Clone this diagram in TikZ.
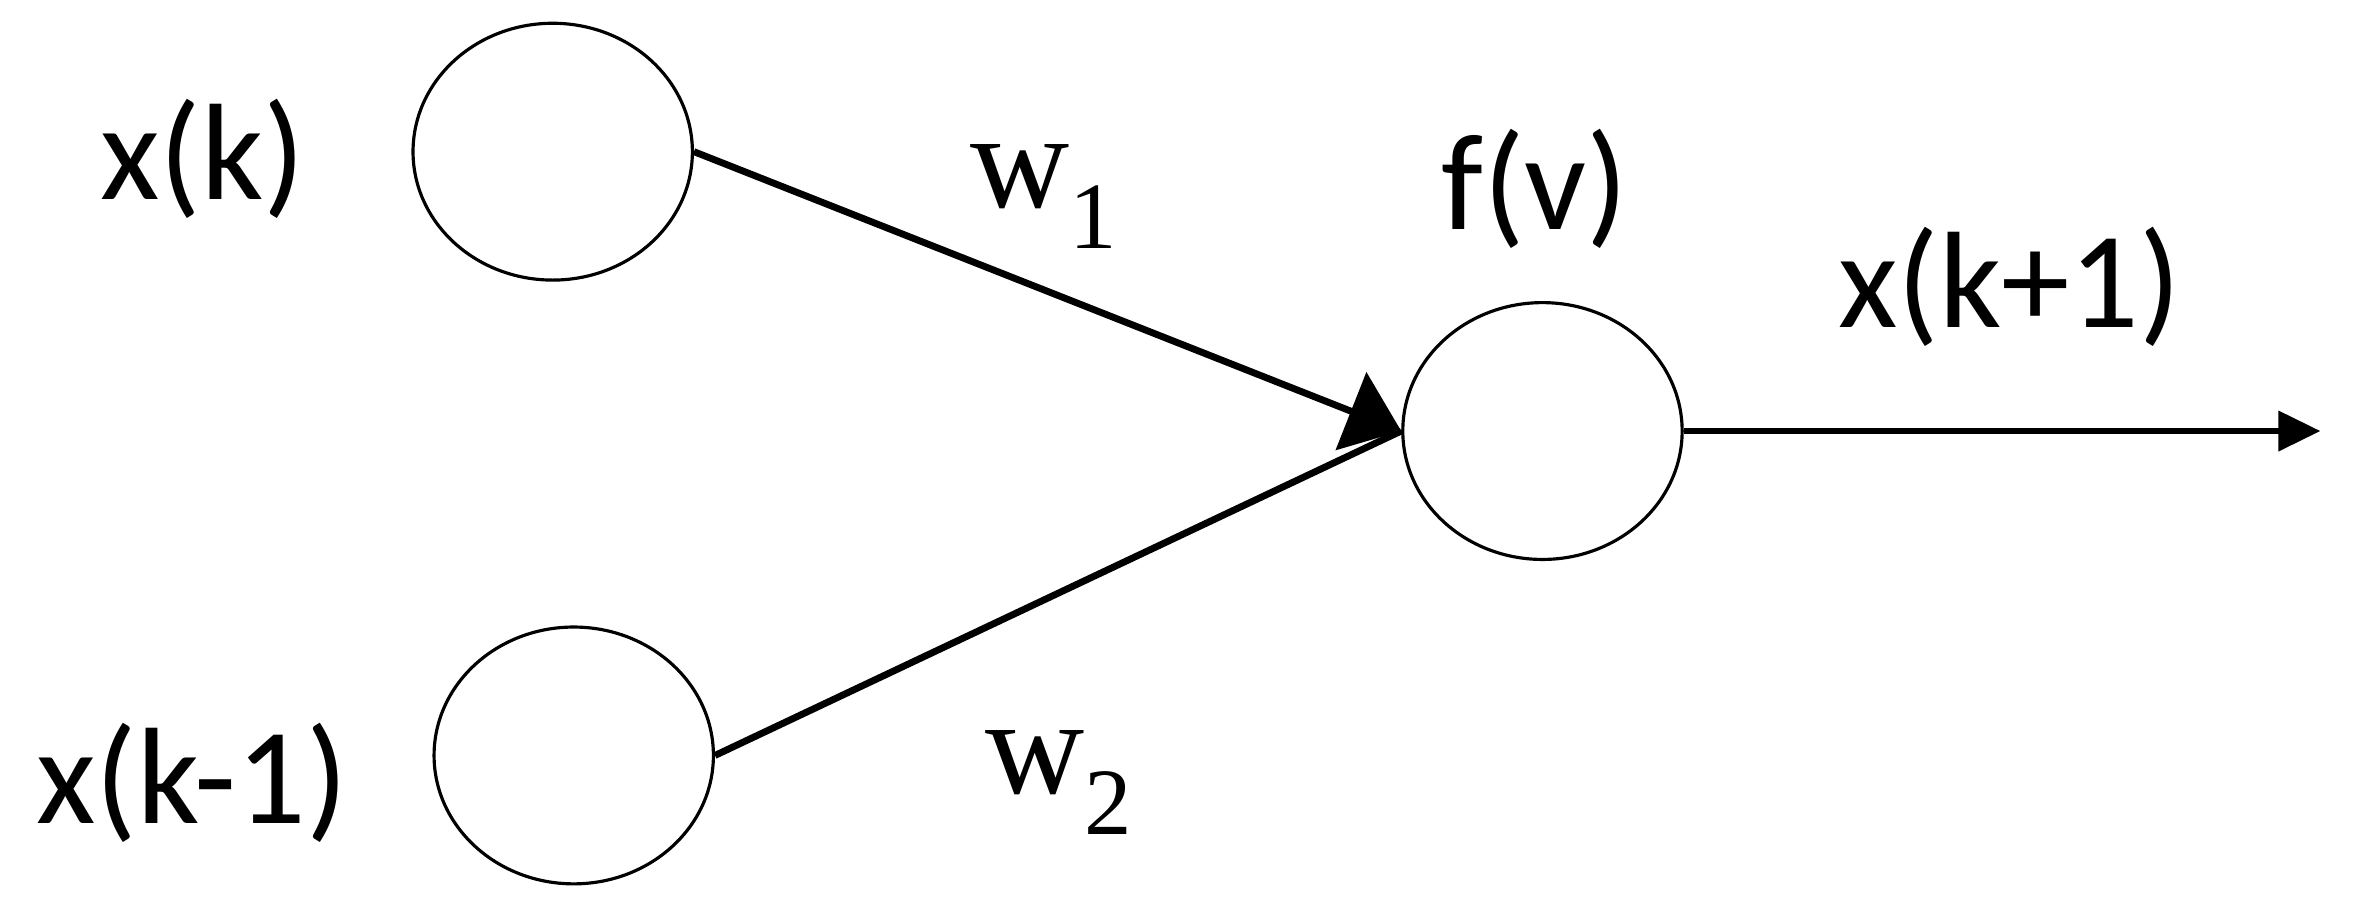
\documentclass[tikz,border=0pt]{standalone}
\usepackage{fontspec}
\setmainfont{Carlito}
\newfontfamily\serifw{Liberation Serif}
\usetikzlibrary{positioning,arrows.meta,shapes.geometric}
\tikzset{
	neuron/.style={draw,ellipse,minimum width=1.86cm,minimum height=1.71cm,inner sep=0pt},
	lbl/.style={font=\fontsize{26}{30}\selectfont},
	wlbl/.style={font={\fontsize{26}{30}\serifw}}
}
\begin{document}
\begin{tikzpicture}[line width=1.3pt]
		\useasboundingbox (0,0) rectangle (15.68,6.01);
		\node[neuron,line width=0.6pt] (xk) at (3.68,5.00) {};
		\node[neuron,line width=0.6pt] (xk1) at (3.82,0.98) {};
		\node[neuron,line width=0.6pt] (fv) at (10.27,3.14) {};
		\coordinate (out) at (15.45,3.14);

		\node[lbl] (lxk) at (1.35,4.95) {x(k)};
		\node[lbl] (lxk1) at (1.28,0.80) {x(k-1)};
		\node[lbl] (lfv) at (10.22,4.75) {f(v)};
		\node[lbl] (lout) at (13.38,4.10) {x(k+1)};
		\node[wlbl] (lw1) at (6.95,4.70) {w\raisebox{-0.3em}{\fontsize{18}{20}\serifw 1}};
		\node[wlbl] (lw2) at (7.05,0.80) {w\raisebox{-0.3em}{\fontsize{18}{20}\serifw 2}};

		\draw[-{Triangle[length=0.36cm,width=0.55cm]}] (xk.east) -- (fv.west);
		\draw (xk1.east) -- (fv.west);
		\draw[-{Triangle[length=0.28cm,width=0.26cm]}] (fv.east) -- (out);
\end{tikzpicture}
\end{document}
